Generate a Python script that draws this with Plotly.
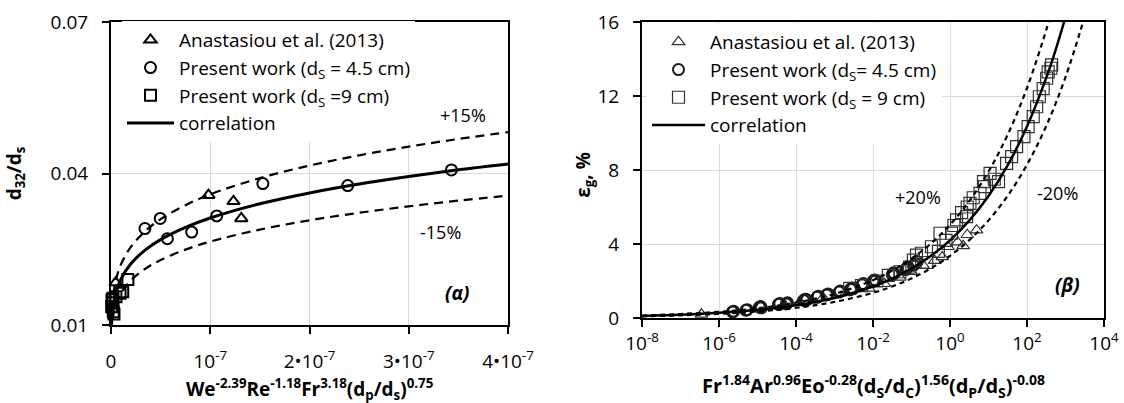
import plotly.graph_objects as go

# ---------------- Panel (α): d32/ds vs We^-2.39 Re^-1.18 Fr^3.18 (dp/ds)^0.75 ----------------
a_anast_x = [0.982e-7, 1.234e-7, 1.313e-7, 0.047e-7]
a_anast_y = [0.0357, 0.0345, 0.0311, 0.0184]

a_p45_x = [3.43e-7, 2.385e-7, 1.53e-7, 1.065e-7, 0.813e-7, 0.568e-7, 0.496e-7, 0.342e-7]
a_p45_y = [0.0407, 0.0376, 0.0380, 0.0316, 0.0284, 0.0271, 0.0311, 0.0291]

a_p9_x = [0.17e-7, 0.118e-7, 0.091e-7, 0.05e-7, 0.02e-7, 0.017e-7, 0.007e-7, 0.023e-7, 0.03e-7, 0.01e-7]
a_p9_y = [0.0190, 0.0166, 0.0163, 0.0156, 0.0153, 0.0144, 0.0136, 0.0126, 0.0122, 0.0150]

a_corr_x = [0.0005e-7, 0.002e-7, 0.005e-7, 0.01e-7, 0.02e-7, 0.05e-7, 0.1e-7, 0.2e-7, 0.35e-7,
            0.5e-7, 0.75e-7, 1.0e-7, 1.5e-7, 2.0e-7, 2.5e-7, 3.0e-7, 3.5e-7, 4.0e-7]
a_corr_y = [0.00618, 0.00830, 0.01009, 0.01169, 0.01356, 0.01648, 0.01910, 0.02214, 0.02494,
            0.02691, 0.02933, 0.03119, 0.03400, 0.03615, 0.03791, 0.03941, 0.04073, 0.04190]
a_up_y = [0.00711, 0.00955, 0.01160, 0.01344, 0.01559, 0.01895, 0.02197, 0.02546, 0.02868,
          0.03095, 0.03373, 0.03587, 0.03910, 0.04157, 0.04360, 0.04532, 0.04684, 0.04819]
a_lo_y = [0.00525, 0.00706, 0.00858, 0.00994, 0.01153, 0.01401, 0.01624, 0.01882, 0.02120,
          0.02287, 0.02493, 0.02651, 0.02890, 0.03073, 0.03222, 0.03350, 0.03462, 0.03562]

a_xticks = [0, 1e-7, 2e-7, 3e-7, 4e-7]
a_xticktext = ["0", "10<sup>-7</sup>", "2•10<sup>-7</sup>", "3•10<sup>-7</sup>", "4•10<sup>-7</sup>"]
a_yticks = [0.01, 0.04, 0.07]
a_yticktext = ["0.01", "0.04", "0.07"]

# ---------------- Panel (β): gas holdup vs dimensionless group ----------------
b_anast_x = [3.5e-7, 5.0e-5, 1.26e-4, 5.0e-4, 2.0e-3, 7.9e-3, 2.0e-2, 5.0e-2, 0.1, 0.2, 0.4, 0.63, 0.89, 1.58, 2.8, 4.9, 2.2]
b_anast_y = [0.20, 0.72, 0.85, 1.10, 1.35, 1.60, 1.85, 2.20, 2.50, 2.85, 3.10, 3.30, 3.85, 4.10, 4.50, 4.75, 3.90]

b_p45_x = [2.24e-6, 2.4e-6, 5.0e-6, 5.4e-6, 1.12e-5, 1.2e-5, 1.26e-5, 3.5e-5, 3.8e-5, 5.6e-5, 6.0e-5,
           1.58e-4, 1.74e-4, 1.9e-4, 3.5e-4, 3.8e-4, 6.3e-4, 6.8e-4, 1.32e-3, 1.41e-3, 2.63e-3,
           2.82e-3, 3.0e-3, 5.2e-3, 5.6e-3, 1.0e-2, 1.1e-2, 1.17e-2, 3.16e-2, 3.4e-2, 3.5e-2,
           7.1e-2, 7.6e-2, 7.9e-2, 0.126, 0.141, 0.112]
b_p45_y = [0.33, 0.36, 0.42, 0.45, 0.58, 0.62, 0.55, 0.74, 0.78, 0.76, 0.82, 0.95, 1.02, 0.98,
           1.12, 1.18, 1.25, 1.30, 1.40, 1.46, 1.55, 1.62, 1.58, 1.80, 1.86, 1.98, 2.06, 2.02,
           2.35, 2.44, 2.40, 2.62, 2.70, 2.75, 2.95, 3.05, 2.85]

b_p9_x = [2.5e-3, 5.0e-3, 1.26e-2, 2.5e-2, 5.0e-2, 8.9e-2, 0.135, 0.112, 0.182, 0.25, 0.33, 0.5,
          0.55, 0.79, 1.1, 1.26, 1.48, 2.0, 2.7, 2.8, 3.3, 4.0, 6.0, 7.4, 7.9, 11.0, 14.1, 18.2,
          29.5, 39.8, 53.7, 83.2, 107.0, 145.0, 178.0, 209.0, 263.0, 324.0, 355.0, 437.0, 417.0]
b_p9_y = [1.60, 1.75, 2.00, 2.30, 2.50, 2.75, 3.40, 3.13, 3.50, 3.00, 3.85, 3.60, 4.58, 4.20,
          4.58, 5.00, 5.30, 5.70, 5.48, 6.00, 6.20, 6.50, 6.74, 7.37, 7.10, 7.82, 7.50, 7.37,
          8.36, 8.72, 9.26, 9.80, 10.34, 10.88, 11.42, 11.96, 12.40, 12.96, 13.30, 13.68, 13.50]

b_corr_x = [1e-8, 1e-7, 1e-6, 1e-5, 1e-4, 1e-3, 1e-2, 3.16e-2, 1e-1, 0.316, 1.0, 3.16, 10.0, 31.6,
            100.0, 316.0, 562.0, 1000.0]
b_corr_y = [0.114, 0.178, 0.280, 0.440, 0.691, 1.085, 1.703, 2.134, 2.675, 3.352, 4.20, 5.263,
            6.596, 8.265, 10.357, 12.979, 14.53, 16.27]
b_up_x = [1e-8, 1e-7, 1e-6, 1e-5, 1e-4, 1e-3, 1e-2, 3.16e-2, 1e-1, 0.316, 1.0, 3.16, 10.0, 31.6,
          100.0, 316.0, 398.0]
b_up_y = [0.136, 0.214, 0.336, 0.528, 0.829, 1.302, 2.044, 2.561, 3.21, 4.02, 5.04, 6.316,
          7.915, 9.918, 12.43, 15.57, 16.3]
b_lo_x = [1e-8, 1e-7, 1e-6, 1e-5, 1e-4, 1e-3, 1e-2, 3.16e-2, 1e-1, 0.316, 1.0, 3.16, 10.0, 31.6,
          100.0, 316.0, 1000.0, 3162.0]
b_lo_y = [0.091, 0.143, 0.224, 0.352, 0.553, 0.868, 1.362, 1.707, 2.14, 2.68, 3.36, 4.21,
          5.277, 6.612, 8.286, 10.38, 13.02, 16.3]

b_xticks = [1e-8, 1e-6, 1e-4, 1e-2, 1e0, 1e2, 1e4]
b_xticktext = ["10<sup>-8</sup>", "10<sup>-6</sup>", "10<sup>-4</sup>", "10<sup>-2</sup>",
               "10<sup>0</sup>", "10<sup>2</sup>", "10<sup>4</sup>"]
b_yticks = [0, 4, 8, 12, 16]

FONT = "'Open Sans', Lato, sans-serif"
W, H = 1124, 403

fig = go.Figure()

# ----- panel α traces -----
mk = dict(color="black", line=dict(color="black", width=2))
fig.add_trace(go.Scatter(x=a_anast_x, y=a_anast_y, mode="markers", name="Anastasiou et al. (2013)",
                         marker=dict(symbol="triangle-up-open", size=11, **mk), cliponaxis=False,
                         xaxis="x", yaxis="y", legend="legend"))
fig.add_trace(go.Scatter(x=a_p45_x, y=a_p45_y, mode="markers", name="Present work (d<sub>S</sub> = 4.5 cm)",
                         marker=dict(symbol="circle-open", size=11, **mk), cliponaxis=False,
                         xaxis="x", yaxis="y", legend="legend"))
fig.add_trace(go.Scatter(x=a_p9_x, y=a_p9_y, mode="markers", name="Present work (d<sub>S</sub> =9 cm)",
                         marker=dict(symbol="square-open", size=11, **mk), cliponaxis=False,
                         xaxis="x", yaxis="y", legend="legend"))
fig.add_trace(go.Scatter(x=a_corr_x, y=a_corr_y, mode="lines", name="correlation",
                         line=dict(color="black", width=3, shape="spline"),
                         xaxis="x", yaxis="y", legend="legend"))
fig.add_trace(go.Scatter(x=a_corr_x, y=a_up_y, mode="lines", showlegend=False,
                         line=dict(color="black", width=2.2, dash="9px,6px", shape="spline"),
                         xaxis="x", yaxis="y"))
fig.add_trace(go.Scatter(x=a_corr_x, y=a_lo_y, mode="lines", showlegend=False,
                         line=dict(color="black", width=2.2, dash="9px,6px", shape="spline"),
                         xaxis="x", yaxis="y"))

# ----- panel β traces -----
mk2 = dict(color="#333333", line=dict(color="#333333", width=1.2))
fig.add_trace(go.Scatter(x=b_anast_x, y=b_anast_y, mode="markers", name="Anastasiou et al. (2013)",
                         marker=dict(symbol="triangle-up-open", size=11, **mk2), cliponaxis=False,
                         xaxis="x2", yaxis="y2", legend="legend2"))
fig.add_trace(go.Scatter(x=b_p45_x, y=b_p45_y, mode="markers", name="Present work (d<sub>S</sub>= 4.5 cm)",
                         marker=dict(symbol="circle-open", size=11, color="#1a1a1a",
                                     line=dict(color="#1a1a1a", width=2)), cliponaxis=False,
                         xaxis="x2", yaxis="y2", legend="legend2"))
fig.add_trace(go.Scatter(x=b_p9_x, y=b_p9_y, mode="markers", name="Present work (d<sub>S</sub> = 9 cm)",
                         marker=dict(symbol="square-open", size=12, **mk2), cliponaxis=False,
                         xaxis="x2", yaxis="y2", legend="legend2"))
fig.add_trace(go.Scatter(x=b_corr_x, y=b_corr_y, mode="lines", name="correlation",
                         line=dict(color="black", width=2.5, shape="spline"),
                         xaxis="x2", yaxis="y2", legend="legend2"))
fig.add_trace(go.Scatter(x=b_up_x, y=b_up_y, mode="lines", showlegend=False,
                         line=dict(color="black", width=2.2, dash="5px,4px", shape="spline"),
                         xaxis="x2", yaxis="y2"))
fig.add_trace(go.Scatter(x=b_lo_x, y=b_lo_y, mode="lines", showlegend=False,
                         line=dict(color="black", width=2.2, dash="5px,4px", shape="spline"),
                         xaxis="x2", yaxis="y2"))

axis_common = dict(showline=True, linecolor="black", linewidth=2, mirror=True,
                   ticks="outside", ticklen=7, tickwidth=1.5, tickcolor="black",
                   gridcolor="#d9d9d9", gridwidth=1, zeroline=False, automargin=False,
                   tickfont=dict(family=FONT, size=19, color="black"))

fig.update_layout(
    width=W, height=H,
    margin=dict(l=0, r=0, t=0, b=0),
    paper_bgcolor="white", plot_bgcolor="white",
    font=dict(family=FONT, color="black"),
    xaxis=dict(domain=[111 / W, 508 / W], range=[0, 4e-7], tickmode="array",
               tickvals=a_xticks, ticktext=a_xticktext, anchor="y", ticklabelstandoff=11,
               **axis_common),
    yaxis=dict(domain=[(H - 325) / H, (H - 22) / H], range=[0.01, 0.07], tickmode="array",
               tickvals=a_yticks, ticktext=a_yticktext, anchor="x", ticklabelstandoff=10,
               title=dict(text="<b>d<sub>32</sub>/d<sub>s</sub></b>",
                          font=dict(family=FONT, size=19), standoff=24),
               **axis_common),
    xaxis2=dict(domain=[642 / W, 1104 / W], type="log", range=[-8, 4], tickmode="array",
                tickvals=b_xticks, ticktext=b_xticktext, anchor="y2", ticklabelstandoff=0,
                **axis_common),
    yaxis2=dict(domain=[(H - 318) / H, (H - 22) / H], range=[0, 16], tickmode="array",
                tickvals=b_yticks, anchor="x2", ticklabelstandoff=10,
                title=dict(text="<b>ε<sub>g</sub>, %</b>" + "&nbsp;" * 2,
                           font=dict(family=FONT, size=19), standoff=2),
                **axis_common),
    legend=dict(x=122 / W, y=(H - 21) / H, xanchor="left", yanchor="top",
                bgcolor="white", borderwidth=0, font=dict(family=FONT, size=19),
                tracegroupgap=0, itemwidth=47),
    legend2=dict(x=647 / W, y=(H - 23) / H, xanchor="left", yanchor="top",
                 bgcolor="white", borderwidth=0, font=dict(family=FONT, size=19),
                 tracegroupgap=0, itemwidth=53),
)

# axis titles of the x axes
fig.add_annotation(x=0.5, y=(H - 389) / H, xref="x domain", yref="paper", yanchor="middle",
                   text="<b>We<sup>-2.39</sup>Re<sup>-1.18</sup>Fr<sup>3.18</sup>(d<sub>p</sub>/d<sub>s</sub>)<sup>0.75</sup></b>",
                   showarrow=False, font=dict(family=FONT, size=19, color="black"))
fig.add_annotation(x=0.5, y=(H - 386) / H, xref="x2 domain", yref="paper", yanchor="middle",
                   text="<b>Fr<sup>1.84</sup>Ar<sup>0.96</sup>Eo<sup>-0.28</sup>(d<sub>S</sub>/d<sub>C</sub>)<sup>1.56</sup>(d<sub>P</sub>/d<sub>S</sub>)<sup>-0.08</sup></b>",
                   showarrow=False, font=dict(family=FONT, size=20, color="black"))

ann_font = dict(family=FONT, size=18, color="black")
fig.add_annotation(x=3.547e-7, y=0.0516, xref="x", yref="y", text="+15%", showarrow=False, font=ann_font)
fig.add_annotation(x=3.315e-7, y=0.0284, xref="x", yref="y", text="-15%", showarrow=False, font=ann_font)
fig.add_annotation(x=3.49e-7, y=0.0163, xref="x", yref="y", text="<b><i>(α)</i></b>", showarrow=False,
                   font=dict(family=FONT, size=19, color="black"))
fig.add_annotation(x=-0.83, y=6.54, xref="x2", yref="y2", text="+20%", showarrow=False, font=ann_font)
fig.add_annotation(x=2.805, y=6.76, xref="x2", yref="y2", text="-20%", showarrow=False, font=ann_font)
fig.add_annotation(x=3.04, y=1.78, xref="x2", yref="y2", text="<b><i>(β)</i></b>", showarrow=False,
                   font=dict(family=FONT, size=19, color="black"))

fig.write_html("out.html", config={"displayModeBar": False},
               post_script="document.body.style.margin='0px';document.body.style.overflow='hidden';")
